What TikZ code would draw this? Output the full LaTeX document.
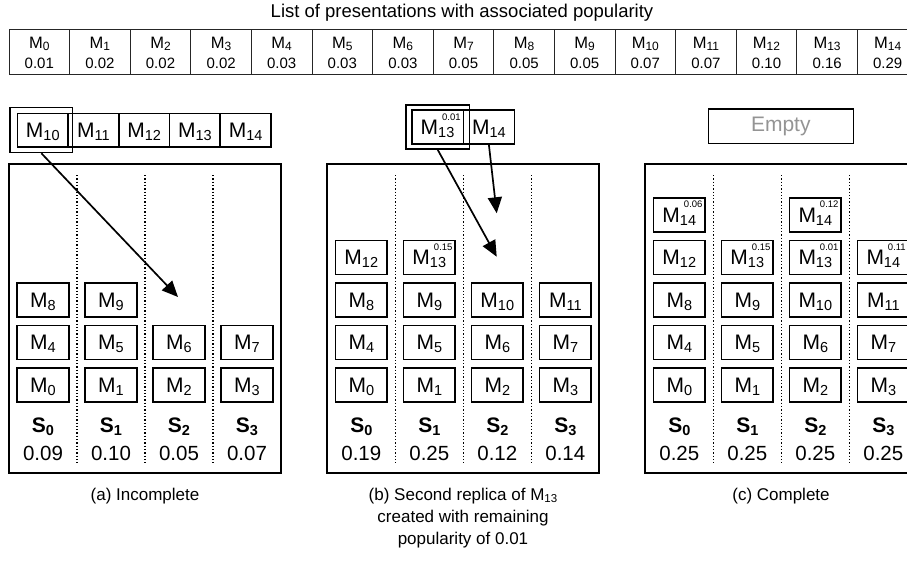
\documentclass[tikz,border=0pt]{standalone}
\usepackage{fontspec}
\setmainfont{Liberation Sans}
\usetikzlibrary{arrows.meta}

\begin{document}
\newcommand\fs[1]{\fontsize{#1}{#1}\selectfont}
% item label with subscript index
\newcommand\Mlab[1]{M\raisebox{-3pt}{\fs{14.5}#1}}
% item label with subscript index and superscript popularity
\newcommand\Mpop[2]{M\makebox[0pt][l]{\hspace{4pt}\raisebox{14.5pt}{\fs{9.5}#2}}\raisebox{-3pt}{\fs{14.5}#1}}
% small label for the list table
\newcommand\Tlab[1]{{\fs{16.5}M}\raisebox{-2pt}{\fs{12}#1}}
% server label
\newcommand\Slab[1]{S\raisebox{-3pt}{\fs{14.5}#1}}

\tikzset{
  mbox/.style={draw, line width=1.6pt, minimum width=51.6pt, minimum height=34pt,
               inner sep=0pt, text height=15pt, text depth=0pt, font=\fs{21}},
  selbox/.style={draw, line width=1.5pt, inner sep=0pt},
  panel/.style={draw, line width=1.9pt},
  colsep/.style={dotted, line width=1.3pt},
  srv/.style={anchor=base, font=\bfseries\fs{21}},
  load/.style={anchor=base, font=\fs{20.5}},
  caption/.style={font=\fontsize{17}{22}\selectfont, align=center},
  tabline/.style={line width=1pt, draw=black!85},
  tabtxt/.style={anchor=base, font=\fs{15}},
  arr/.style={-{Triangle[length=16pt,width=14pt]}, line width=1.7pt},
}

\begin{tikzpicture}[x=1pt, y=-1pt]
\clip (0,0) rectangle (907,562);
\fill[white] (0,0) rectangle (907,562);

% ---------- list of items with popularity ----------
\node[font=\fs{18.5}] (title) at (462,13) {List of presentations with associated popularity};
\draw[tabline] (9,29.3) rectangle (918,74);
\foreach \i/\p in {0/0.01,1/0.02,2/0.02,3/0.02,4/0.03,5/0.03,6/0.03,7/0.05,
                   8/0.05,9/0.05,10/0.07,11/0.07,12/0.10,13/0.16,14/0.29}{
  \pgfmathsetmacro\cx{39.3+60.6*\i}
  \node[tabtxt] (t-\i) at (\cx,48.5) {\Tlab{\i}};
  \node[tabtxt] (v-\i) at (\cx,68) {\p};
  \ifnum\i>0
    \pgfmathsetmacro\lx{9+60.6*\i}
    \draw[tabline] (\lx,29.3) -- (\lx,74);
  \fi
}

% ---------- (a) incomplete ----------
\foreach \k/\n in {0/10,1/11,2/12,3/13,4/14}{
  \pgfmathsetmacro\cx{42.8+50.7*\k}
  \node[mbox, minimum width=50.7pt, minimum height=33.4pt] (aq-\n) at (\cx,130.3) {\Mlab{\n}};
}
\node[selbox, minimum width=62.7pt, minimum height=45pt] (a-sel) at (41.35,130) {};
\draw[panel] (9,164.3) rectangle (281,473.3);
\foreach \x in {77,145,213}{\draw[colsep] (\x,175) -- (\x,465);}
\foreach \c/\l in {0/{0,4,8},1/{1,5,9},2/{2,6},3/{3,7}}{
  \pgfmathsetmacro\cx{43+68*\c}
  \foreach \m [count=\r from 0] in \l {
    \pgfmathsetmacro\cy{384.8-42.5*\r}
    \node[mbox] (a-\m) at (\cx,\cy) {\Mlab{\m}};
  }
}
\foreach \c/\v in {0/0.09,1/0.10,2/0.05,3/0.07}{
  \pgfmathsetmacro\cx{43+68*\c}
  \node[srv] (aS-\c) at (\cx,432) {\Slab{\c}};
  \node[load] (aL-\c) at (\cx,460) {\v};
}
\coordinate (a-tip) at (178,297);
\draw[arr] (a-sel.south) -- (a-tip);
\node[caption] (cap-a) at (145,496) {(a) Incomplete};

% ---------- (b) second replica ----------
\node[mbox] (bq-13) at (437.5,127) {\Mpop{13}{0.01}};
\node[mbox, minimum width=50.8pt] (bq-14) at (488.9,127) {\Mlab{14}};
\node[selbox, minimum width=63.3pt, minimum height=44pt] (b-sel) at (437.7,127) {};
\draw[panel] (327.3,164.3) rectangle (599.3,473.3);
\foreach \x in {395.3,463.3,531.3}{\draw[colsep] (\x,175) -- (\x,465);}
\foreach \c/\l in {0/{0,4,8,12},1/{1,5,9},2/{2,6,10},3/{3,7,11}}{
  \pgfmathsetmacro\cx{361.3+68*\c}
  \foreach \m [count=\r from 0] in \l {
    \pgfmathsetmacro\cy{384.8-42.5*\r}
    \node[mbox] (b-\m) at (\cx,\cy) {\Mlab{\m}};
  }
}
\node[mbox] (b-13) at (429.3,257.3) {\Mpop{13}{0.15}};
\foreach \c/\v in {0/0.19,1/0.25,2/0.12,3/0.14}{
  \pgfmathsetmacro\cx{361.3+68*\c}
  \node[srv] (bS-\c) at (\cx,432) {\Slab{\c}};
  \node[load] (bL-\c) at (\cx,460) {\v};
}
\coordinate (b-tip13) at (496.7,256.7);
\coordinate (b-tip14) at (496.7,213.3);
\draw[arr] (b-sel.south) -- (b-tip13);
\draw[arr] (bq-14.south) -- (b-tip14);
\node[caption] (cap-b) at (463,518)
  {(b) Second replica of M\raisebox{-2pt}{\fs{11.5}13}\\created with remaining\\popularity of 0.01};

% ---------- (c) complete ----------
\node[draw, line width=1.6pt, minimum width=145pt, minimum height=34.3pt,
      inner sep=0pt, font=\fs{21}, text=black!42] (c-queue) at (780.8,126.2) {Empty};
\draw[panel] (645.3,164.3) rectangle (917.3,473.3);
\foreach \x in {713.3,781.3,849.3}{\draw[colsep] (\x,175) -- (\x,465);}
\foreach \c/\l in {0/{0,4,8,12},1/{1,5,9},2/{2,6,10},3/{3,7,11}}{
  \pgfmathsetmacro\cx{679.3+68*\c}
  \foreach \m [count=\r from 0] in \l {
    \pgfmathsetmacro\cy{384.8-42.5*\r}
    \node[mbox] (c-\m) at (\cx,\cy) {\Mlab{\m}};
  }
}
\node[mbox] (c-14a) at (679.3,214.8) {\Mpop{14}{0.06}};
\node[mbox] (c-13a) at (747.3,257.3) {\Mpop{13}{0.15}};
\node[mbox] (c-13b) at (815.3,257.3) {\Mpop{13}{0.01}};
\node[mbox] (c-14b) at (815.3,214.8) {\Mpop{14}{0.12}};
\node[mbox] (c-14c) at (883.3,257.3) {\Mpop{14}{0.11}};
\foreach \c in {0,1,2,3}{
  \pgfmathsetmacro\cx{679.3+68*\c}
  \node[srv] (cS-\c) at (\cx,432) {\Slab{\c}};
  \node[load] (cL-\c) at (\cx,460) {0.25};
}
\node[caption] (cap-c) at (781,496) {(c) Complete};
\end{tikzpicture}
\end{document}
